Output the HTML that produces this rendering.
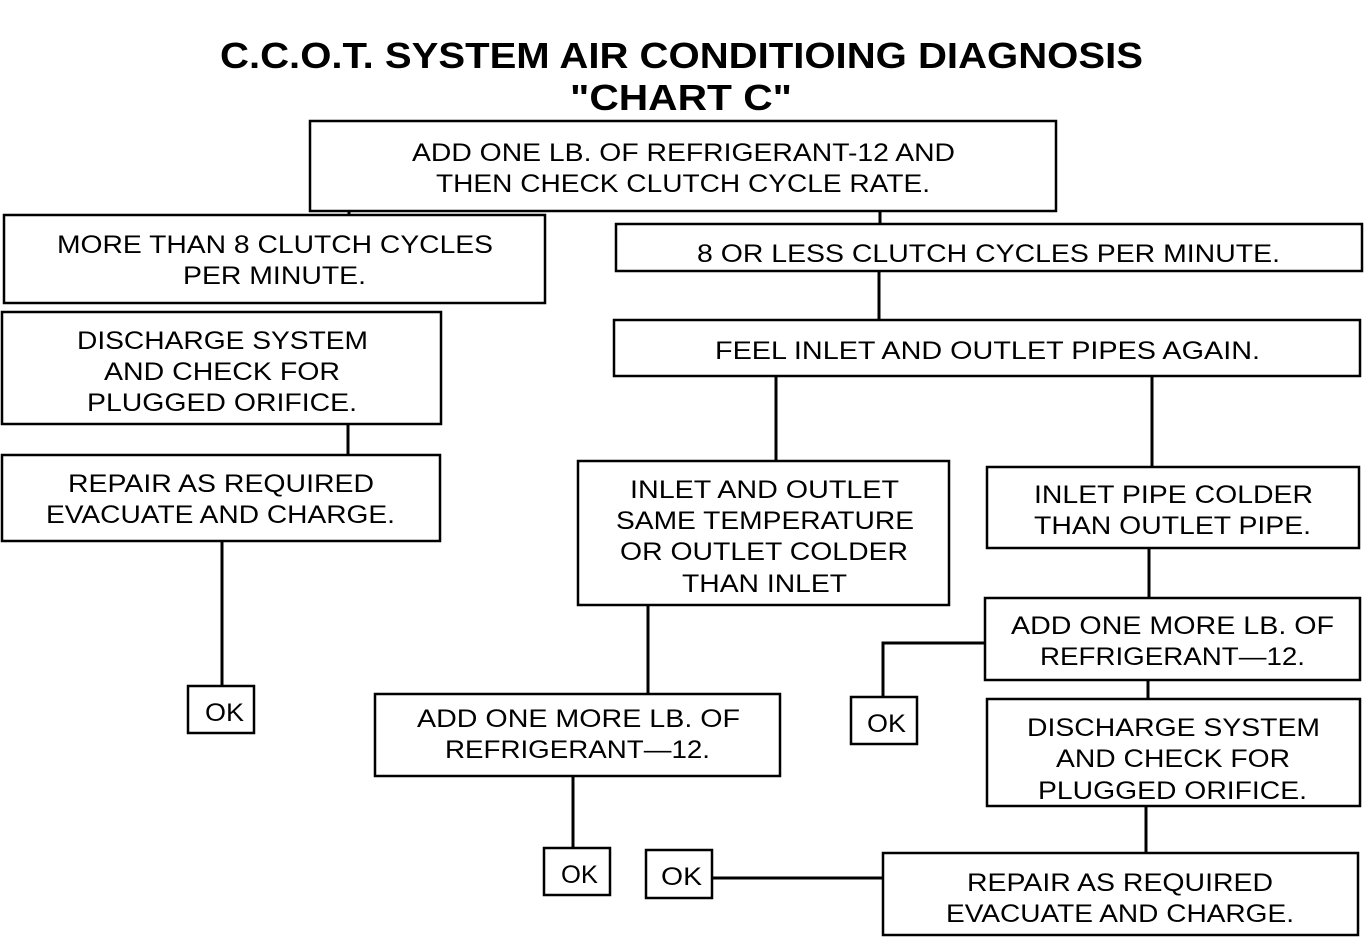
<!DOCTYPE html>
<html><head><meta charset="utf-8"><style>
html,body{margin:0;padding:0;background:#fff;}
svg{display:block;}
text{font-family:"Liberation Sans",sans-serif;font-size:25px;fill:#000;}
.t{font-weight:bold;font-size:36px;}
rect{fill:#fff;stroke:#000;stroke-width:2.5;}
line,polyline{stroke:#000;stroke-width:3;fill:none;}
</style></head><body>
<svg width="1364" height="944" viewBox="0 0 1364 944" xmlns="http://www.w3.org/2000/svg">
<rect x="0" y="0" width="1364" height="944" style="stroke:none"/>
<!-- connectors -->
<line x1="349" y1="211" x2="349" y2="215"/>
<line x1="880" y1="211" x2="880" y2="224"/>
<line x1="348" y1="424" x2="348" y2="455"/>
<line x1="222" y1="541" x2="222" y2="686"/>
<line x1="879" y1="271" x2="879" y2="320"/>
<line x1="776" y1="376" x2="776" y2="461"/>
<line x1="1152" y1="376" x2="1152" y2="467"/>
<line x1="1149" y1="548" x2="1149" y2="598"/>
<polyline points="985,643 883,643 883,697"/>
<line x1="1148" y1="680" x2="1148" y2="699"/>
<line x1="648" y1="605" x2="648" y2="694"/>
<line x1="573" y1="776" x2="573" y2="848"/>
<line x1="1146" y1="806" x2="1146" y2="853"/>
<line x1="712" y1="878" x2="883" y2="878"/>
<!-- title -->
<text class="t" x="220" y="68" textLength="923" lengthAdjust="spacingAndGlyphs">C.C.O.T. SYSTEM AIR CONDITIOING DIAGNOSIS</text>
<text class="t" x="570" y="110" textLength="222" lengthAdjust="spacingAndGlyphs">"CHART C"</text>
<!-- boxes -->
<rect x="310" y="121" width="746" height="90"/>
<text x="412" y="161" textLength="543" lengthAdjust="spacingAndGlyphs">ADD ONE LB. OF REFRIGERANT-12 AND</text>
<text x="436" y="192" textLength="494" lengthAdjust="spacingAndGlyphs">THEN CHECK CLUTCH CYCLE RATE.</text>

<rect x="4" y="215" width="541" height="88"/>
<text x="57" y="253" textLength="436" lengthAdjust="spacingAndGlyphs">MORE THAN 8 CLUTCH CYCLES</text>
<text x="183" y="284" textLength="183" lengthAdjust="spacingAndGlyphs">PER MINUTE.</text>

<rect x="616" y="224" width="746" height="47"/>
<text x="697" y="262" textLength="583" lengthAdjust="spacingAndGlyphs">8 OR LESS CLUTCH CYCLES PER MINUTE.</text>

<rect x="2" y="312" width="439" height="112"/>
<text x="77" y="349" textLength="291" lengthAdjust="spacingAndGlyphs">DISCHARGE SYSTEM</text>
<text x="104" y="380" textLength="236" lengthAdjust="spacingAndGlyphs">AND CHECK FOR</text>
<text x="87" y="411" textLength="270" lengthAdjust="spacingAndGlyphs">PLUGGED ORIFICE.</text>

<rect x="2" y="455" width="438" height="86"/>
<text x="68" y="492" textLength="306" lengthAdjust="spacingAndGlyphs">REPAIR AS REQUIRED</text>
<text x="46" y="523" textLength="349" lengthAdjust="spacingAndGlyphs">EVACUATE AND CHARGE.</text>

<rect x="188" y="686" width="66" height="47"/>
<text x="205" y="721" textLength="39" lengthAdjust="spacingAndGlyphs">OK</text>

<rect x="614" y="320" width="746" height="56"/>
<text x="715" y="359" textLength="545" lengthAdjust="spacingAndGlyphs">FEEL INLET AND OUTLET PIPES AGAIN.</text>

<rect x="578" y="461" width="371" height="144"/>
<text x="630" y="498" textLength="269" lengthAdjust="spacingAndGlyphs">INLET AND OUTLET</text>
<text x="616" y="529" textLength="298" lengthAdjust="spacingAndGlyphs">SAME TEMPERATURE</text>
<text x="620" y="560" textLength="288" lengthAdjust="spacingAndGlyphs">OR OUTLET COLDER</text>
<text x="682" y="592" textLength="165" lengthAdjust="spacingAndGlyphs">THAN INLET</text>

<rect x="987" y="467" width="372" height="81"/>
<text x="1034" y="503" textLength="279" lengthAdjust="spacingAndGlyphs">INLET PIPE COLDER</text>
<text x="1034" y="534" textLength="277" lengthAdjust="spacingAndGlyphs">THAN OUTLET PIPE.</text>

<rect x="985" y="598" width="375" height="82"/>
<text x="1011" y="634" textLength="323" lengthAdjust="spacingAndGlyphs">ADD ONE MORE LB. OF</text>
<text x="1040" y="665" textLength="265" lengthAdjust="spacingAndGlyphs">REFRIGERANT—12.</text>

<rect x="851" y="697" width="66" height="47"/>
<text x="867" y="732" textLength="39" lengthAdjust="spacingAndGlyphs">OK</text>

<rect x="987" y="699" width="373" height="107"/>
<text x="1027" y="736" textLength="293" lengthAdjust="spacingAndGlyphs">DISCHARGE SYSTEM</text>
<text x="1056" y="767" textLength="234" lengthAdjust="spacingAndGlyphs">AND CHECK FOR</text>
<text x="1038" y="799" textLength="269" lengthAdjust="spacingAndGlyphs">PLUGGED ORIFICE.</text>

<rect x="375" y="694" width="405" height="82"/>
<text x="417" y="727" textLength="323" lengthAdjust="spacingAndGlyphs">ADD ONE MORE LB. OF</text>
<text x="445" y="758" textLength="265" lengthAdjust="spacingAndGlyphs">REFRIGERANT—12.</text>

<rect x="544" y="848" width="66" height="47"/>
<text x="561" y="883" textLength="37" lengthAdjust="spacingAndGlyphs">OK</text>

<rect x="646" y="850" width="66" height="48"/>
<text x="661" y="885" textLength="41" lengthAdjust="spacingAndGlyphs">OK</text>

<rect x="883" y="853" width="475" height="82"/>
<text x="967" y="891" textLength="306" lengthAdjust="spacingAndGlyphs">REPAIR AS REQUIRED</text>
<text x="946" y="922" textLength="348" lengthAdjust="spacingAndGlyphs">EVACUATE AND CHARGE.</text>
</svg>
</body></html>
